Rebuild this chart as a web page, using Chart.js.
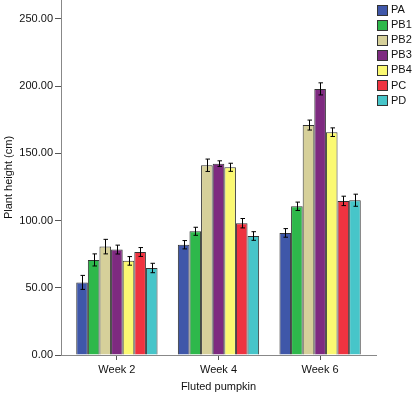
<!DOCTYPE html>
<html>
<head>
<meta charset="utf-8">
<script src="https://cdn.jsdelivr.net/npm/chart.js@4.4.1/dist/chart.umd.min.js"></script>
<style>
    body { margin: 0; background: #ffffff; }
    #wrap { width: 415px; height: 396px; }
</style>
</head>
<body>
<div id="wrap"><canvas id="myChart" width="415" height="396"></canvas></div>
<script>
//CHART DATA
////////////////////////////////////////////////////////////////////
var weeks = ["Week 2", "Week 4", "Week 6"];
var treatments = ["PA", "PB1", "PB2", "PB3", "PB4", "PC", "PD"];

//mean plant height per week (cm)
var pa = [54.0, 82.0, 90.8];
var pb1 = [70.7, 92.0, 110.6];
var pb2 = [80.6, 141.1, 171.0];
var pb3 = [78.4, 142.3, 197.9];
var pb4 = [70.0, 139.6, 165.7];
var pc = [76.6, 98.0, 114.6];
var pd = [64.7, 88.5, 115.1];

//error bar half widths
var paErr = [5.2, 3.1, 3.2];
var pb1Err = [4.5, 3.0, 3.1];
var pb2Err = [5.4, 4.6, 3.7];
var pb3Err = [3.3, 2.1, 4.5];
var pb4Err = [3.2, 3.0, 3.2];
var pcErr = [3.3, 3.5, 3.5];
var pdErr = [3.5, 3.2, 4.5];

var yTicks = [0, 50, 100, 150, 200, 250];

var seriesValues = [pa, pb1, pb2, pb3, pb4, pc, pd];
var seriesErrors = [paErr, pb1Err, pb2Err, pb3Err, pb4Err, pcErr, pdErr];
var colors = ["#3f57a9", "#2eb84b", "#d6d09a", "#7e2a80", "#fbf972", "#ef3340", "#47c5c9"];

//ALL FUNCTIONS
////////////////////////////////////////////////////////////////////

//turn the arrays into chart.js datasets
function buildDatasets() {
    var sets = [];
    for (var i = 0; i < treatments.length; i++) {
        var points = [];
        for (var j = 0; j < weeks.length; j++) {
            points.push({ x: j, y: seriesValues[i][j] });
        }
        sets.push({
            label: treatments[i],
            data: points,
            errors: seriesErrors[i],
            backgroundColor: colors[i],
            borderColor: "#333333",
            borderWidth: 1,
            categoryPercentage: 0.8,
            barPercentage: 1.0
        });
    }
    return sets;
}

//draws the +/- error whiskers on top of each bar
var errorBars = {
    id: "errorBars",
    afterDatasetsDraw: function (chart) {
        var ctx = chart.ctx;
        var yScale = chart.scales.y;
        ctx.save();
        ctx.strokeStyle = "#000000";
        ctx.lineWidth = 1;
        chart.data.datasets.forEach(function (ds, i) {
            var meta = chart.getDatasetMeta(i);
            meta.data.forEach(function (bar, j) {
                var v = ds.data[j].y;
                var e = ds.errors[j];
                var top = yScale.getPixelForValue(v + e);
                var bottom = yScale.getPixelForValue(v - e);
                var x = Math.round(bar.x) + 0.5;
                ctx.beginPath();
                ctx.moveTo(x, top);
                ctx.lineTo(x, bottom);
                ctx.moveTo(x - 2, top);
                ctx.lineTo(x + 2.5, top);
                ctx.moveTo(x - 2, bottom);
                ctx.lineTo(x + 2.5, bottom);
                ctx.stroke();
            });
        });
        ctx.restore();
    }
};

//legend in the top right corner
var sideLegend = {
    id: "sideLegend",
    afterDraw: function (chart) {
        var ctx = chart.ctx;
        ctx.save();
        ctx.font = "11px 'Liberation Sans', Arial, sans-serif";
        ctx.textBaseline = "middle";
        chart.data.datasets.forEach(function (ds, i) {
            var cy = 9.5 + i * 15.1;
            ctx.fillStyle = ds.backgroundColor;
            ctx.fillRect(377.5, Math.round(cy - 5) + 0.5, 10, 10);
            ctx.strokeStyle = "#333333";
            ctx.strokeRect(377.5, Math.round(cy - 5) + 0.5, 10, 10);
            ctx.fillStyle = "#111111";
            ctx.fillText(ds.label, 391, cy + 0.5);
        });
        ctx.restore();
    }
};

function displayChart() {
    var font = { family: "'Liberation Sans', Arial, sans-serif", size: 11 };
    new Chart(document.getElementById("myChart"), {
        type: "bar",
        data: {
            datasets: buildDatasets()
        },
        plugins: [errorBars, sideLegend],
        options: {
            responsive: false,
            animation: false,
            layout: { padding: { top: 0, right: 39, left: 0, bottom: 0 } },
            plugins: {
                legend: { display: false },
                tooltip: { enabled: false }
            },
            scales: {
                x: {
                    type: "linear",
                    min: -0.55,
                    max: 2.55,
                    offset: false,
                    afterBuildTicks: function (scale) {
                        scale.ticks = weeks.map(function (w, i) { return { value: i }; });
                    },
                    afterFit: function (scale) {
                        scale.height = 41;
                        scale.paddingLeft = 0;
                        scale.paddingRight = 0;
                    },
                    ticks: {
                        color: "#111111",
                        font: font,
                        padding: 3,
                        maxRotation: 0,
                        callback: function (v) { return weeks[v]; }
                    },
                    grid: { offset: false, drawOnChartArea: false, tickLength: 5, color: "#555555" },
                    border: { color: "#888888" },
                    title: { display: true, text: "Fluted pumpkin", color: "#111111", font: font, padding: { top: 2, bottom: 2 } }
                },
                y: {
                    min: 0,
                    max: 264,
                    afterBuildTicks: function (scale) {
                        scale.ticks = yTicks.map(function (t) { return { value: t }; });
                    },
                    afterFit: function (scale) {
                        scale.width = 61;
                        scale.paddingTop = 0;
                        scale.paddingBottom = 0;
                    },
                    ticks: {
                        color: "#111111",
                        font: font,
                        padding: 2,
                        callback: function (v) { return v.toFixed(2); }
                    },
                    grid: { drawOnChartArea: false, tickLength: 6, color: "#555555" },
                    border: { color: "#888888" },
                    title: { display: true, text: "Plant height (cm)", color: "#111111", font: font, padding: { top: 2, bottom: 2 } }
                }
            }
        }
    });
}

displayChart();
</script>
</body>
</html>
